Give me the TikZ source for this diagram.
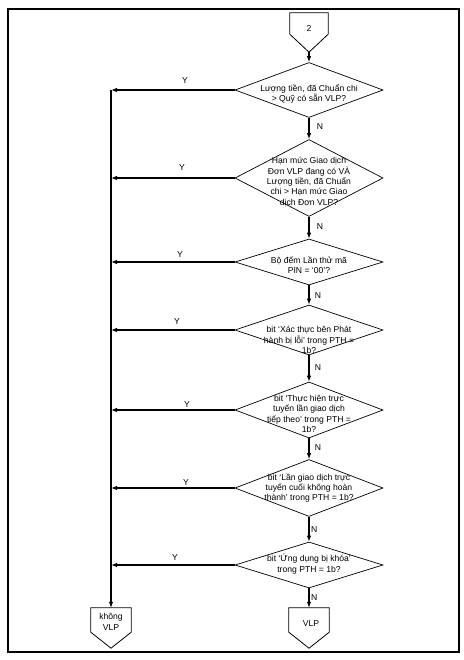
\documentclass[tikz,border=0pt]{standalone}
\usepackage{fontspec}
\setmainfont{Liberation Sans}
\usetikzlibrary{shapes.geometric,arrows.meta,calc}
\begin{document}
\begin{tikzpicture}[x=1pt,y=-1pt,
  every node/.style={font=\fontsize{8.6}{10.4}\selectfont},
  dec/.style={diamond, draw, line width=0.7pt, inner sep=0pt, minimum width=148pt},
  txt/.style={align=center, inner sep=0pt},
  arr/.style={line width=1.1pt, -{Latex[length=6pt,width=4.5pt]}},
  lab/.style={inner sep=1pt},
  conbox/.style={minimum width=40pt, minimum height=24pt, inner sep=0pt},
  pent/.style={draw, line width=0.8pt, line join=miter}
]
\useasboundingbox (0,0) rectangle (463,660);
\draw[line width=1.6pt] (8,9) rectangle (459,652);

% top off-page connector
\node[conbox, minimum width=38pt, minimum height=21pt] (c2) at (309,23.5) {};
\draw[pent] (c2.north west) -- (c2.north east) -- (c2.south east) -- ($(c2.south)+(0,18)$) coordinate (c2tip) -- (c2.south west) -- cycle;
\node[txt] (c2t) at (309,29) {2};

% decisions
\node[dec, minimum height=55pt] (d1) at (309,90) {};
\node[txt] (t1) at (309,94) {Lượng tiền, đã Chuẩn chi\\> Quỹ có sẵn VLP?};
\node[dec, minimum height=77pt] (d2) at (309,178) {};
\node[txt] (t2) at (309,182) {Hạn mức Giao dịch\\Đơn VLP đang có VÀ\\Lượng tiền, đã Chuẩn\\chi > Hạn mức Giao\\dịch Đơn VLP?};
\node[dec, minimum height=46pt] (d3) at (309,262) {};
\node[txt] (t3) at (309,265) {Bộ đếm Lần thử mã\\PIN = `00'?};
\node[dec, minimum height=50pt] (d4) at (309,330) {};
\node[txt] (t4) at (309,340) {bit `Xác thực bên Phát\\hành bị lỗi' trong PTH =\\1b?};
\node[dec, minimum height=56pt] (d5) at (309,410) {};
\node[txt] (t5) at (309,414) {bit `Thực hiện trực\\tuyến lần giao dịch\\tiếp theo' trong PTH =\\1b?};
\node[dec, minimum height=57pt] (d6) at (309,488) {};
\node[txt] (t6) at (309,488) {bit `Lần giao dịch trực\\tuyến cuối không hoàn\\thành' trong PTH = 1b?};
\node[dec, minimum height=46pt] (d7) at (309,565) {};
\node[txt] (t7) at (309,564) {bit `Ứng dụng bị khóa'\\trong PTH = 1b?};

% terminal connectors
\node[conbox] (nv) at (111,620) {};
\draw[pent] (nv.north west) -- (nv.north east) -- (nv.south east) -- ($(nv.south)+(0,16)$) -- (nv.south west) -- cycle;
\node[txt] (nvt) at (111,622) {không\\VLP};
\node[conbox] (vlp) at (309,620) {};
\draw[pent] (vlp.north west) -- (vlp.north east) -- (vlp.south east) -- ($(vlp.south)+(0,16)$) -- (vlp.south west) -- cycle;
\node[txt] (vlpt) at (311,624) {VLP};

\coordinate (lx) at (111,0);

% N connectors
\draw[arr] (c2tip) -- (d1.north);
\draw[arr] (d1.south) -- (d2.north);
\draw[arr] (d2.south) -- (d3.north);
\draw[arr] (d3.south) -- (d4.north);
\draw[arr] (d4.south) -- (d5.north);
\draw[arr] (d5.south) -- (d6.north);
\draw[arr] (d6.south) -- (d7.north);
\draw[arr] (d7.south) -- (vlp.north);
\node[lab] (n1) at (320,127) {N};
\node[lab] (n2) at (320,227) {N};
\node[lab] (n3) at (318,296) {N};
\node[lab] (n4) at (318,368) {N};
\node[lab] (n5) at (318,448) {N};
\node[lab, anchor=west] (n6) at (310,530) {N};
\node[lab, anchor=west] (n7) at (310,598) {N};

% Y connectors
\draw[arr] (d1.west) -- (d1.west -| lx);
\draw[arr] (d2.west) -- (d2.west -| lx);
\draw[arr] (d3.west) -- (d3.west -| lx);
\draw[arr] (d4.west) -- (d4.west -| lx);
\draw[arr] (d5.west) -- (d5.west -| lx);
\draw[arr] (d6.west) -- (d6.west -| lx);
\draw[arr] (d7.west) -- (d7.west -| lx);
\draw[arr] (d1.west -| lx) -- (nv.north);
\node[lab] (y1) at (185,81) {Y};
\node[lab] (y2) at (182,168) {Y};
\node[lab] (y3) at (180,255) {Y};
\node[lab] (y4) at (177,322) {Y};
\node[lab, anchor=south] (y5) at (187,409) {Y};
\node[lab, anchor=south] (y6) at (186,487) {Y};
\node[lab] (y7) at (175,558) {Y};
\end{tikzpicture}
\end{document}
